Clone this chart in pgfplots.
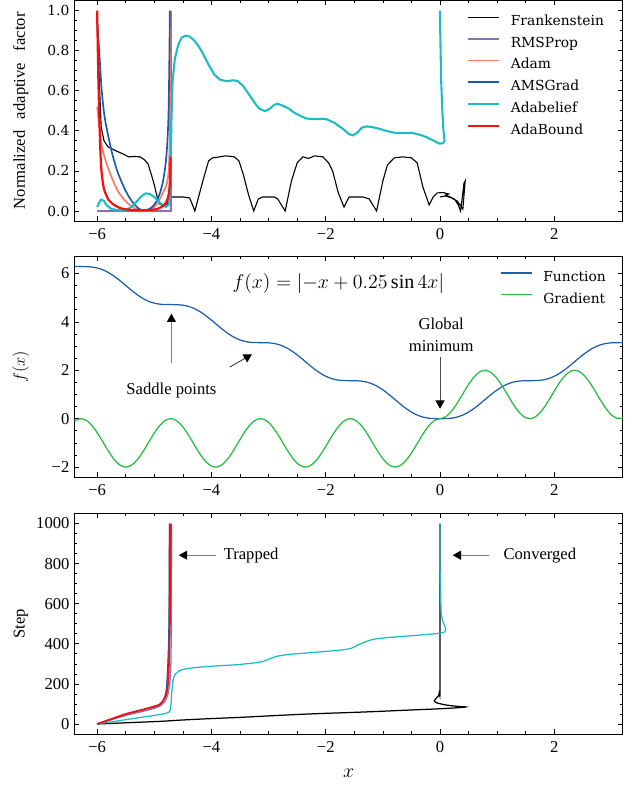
\documentclass[border=0pt]{standalone}
\usepackage{pgfplots}
\pgfplotsset{compat=1.18}
\usepackage{fontspec}
\setmainfont{Liberation Serif}
\newfontfamily\dvs{DejaVu Serif}
\usetikzlibrary{arrows.meta}

\definecolor{cFunc}{RGB}{31,95,170}
\definecolor{cGrad}{RGB}{35,190,60}
\definecolor{cAMS}{RGB}{25,90,170}
\definecolor{cBelief}{RGB}{25,190,195}
\definecolor{cAdam}{RGB}{250,120,100}
\definecolor{cBound}{RGB}{245,15,15}
\definecolor{cRMS}{RGB}{145,110,180}

\pgfplotsset{
  base/.style={
    scale only axis, width=5.486in, height=2.205in, anchor=north west,
    xmin=-6.4, xmax=3.2, xtick={-6,-4,-2,0,2}, xticklabels={−6,−4,−2,0,2},
    minor x tick num=3, minor y tick num=3,
    tick align=inside, major tick length=3.6pt, minor tick length=2pt,
    every tick/.style={black, line width=0.5pt},
    axis line style={line width=0.7pt},
    tick label style={font=\fontsize{12}{14}\selectfont},
    xticklabel style={yshift=-2pt},
    ylabel style={at={(axis description cs:-0.0975,0.5)}, anchor=center, font=\fontsize{12}{14}\selectfont},
    legend cell align=left,
    legend image code/.code={\path (0pt,0pt); \draw[##1] (0pt,3.5pt) -- (22.75pt,3.5pt);},
  },
  lg/.style={legend style={at={(axis description cs:#1,0.952)}, anchor=north west, draw=none, fill=none,
      inner sep=0pt, outer sep=0pt, row sep=0pt, column sep=7.7pt,
      font=\dvs\fontsize{10}{12}\selectfont,
      nodes={inner xsep=0pt, inner ysep=2.85pt, text height=7.5pt, text depth=2.5pt}}},
}

\begin{document}
\begin{tikzpicture}
\useasboundingbox (-0.743in,0.005in) rectangle (5.547in,-7.905in);

% ---------------- top panel ----------------
\begin{axis}[base, lg=0.715, at={(0,0)},
  ymin=-0.05, ymax=1.05, ytick={0,0.2,0.4,0.6,0.8,1.0},
  yticklabels={0.0,0.2,0.4,0.6,0.8,1.0},
  yticklabel style={font=\dvs\fontsize{10}{12}\selectfont},
  ylabel={Normalized\hspace{0.7em}adaptive\hspace{0.7em}factor}]
\addplot[black, line width=0.8pt] coordinates {
(-6.0,0.95) (-5.97,0.70) (-5.93,0.42) (-5.88,0.35) (-5.81,0.32) (-5.67,0.30) (-5.55,0.285) (-5.45,0.27) (-5.35,0.272) (-5.25,0.27) (-5.17,0.255) (-5.11,0.235) (-5.05,0.18) (-5.0,0.13) (-4.95,0.07) (-4.91,0.035) (-4.85,0.028) (-4.78,0.03) (-4.74,0.065) (-4.68,0.07) (-4.5,0.07) (-4.38,0.065) (-4.29,0.0) (-4.15,0.15) (-4.05,0.25) (-3.98,0.265) (-3.9,0.268) (-3.75,0.275) (-3.6,0.27) (-3.52,0.25) (-3.45,0.19) (-3.35,0.08) (-3.26,0.0) (-3.18,0.06) (-3.1,0.07) (-2.9,0.07) (-2.84,0.06) (-2.71,0.0) (-2.6,0.15) (-2.5,0.24) (-2.4,0.27) (-2.3,0.262) (-2.2,0.275) (-2.05,0.27) (-1.95,0.24) (-1.88,0.2) (-1.78,0.09) (-1.68,0.02) (-1.59,0.07) (-1.35,0.07) (-1.24,0.06) (-1.11,0.0) (-1.0,0.15) (-0.92,0.23) (-0.8,0.265) (-0.65,0.27) (-0.5,0.265) (-0.4,0.24) (-0.3,0.12) (-0.19,0.03) (-0.12,0.07) (-0.05,0.09) (0.05,0.092) (0.15,0.085) (0.1,0.08) (0.25,0.06) (0.32,0.03) (0.36,0.0) (0.42,0.14) (0.44,0.15) (0.40,0.01) (0.3,0.05) (0.2,0.065) (0.1,0.075) (0.0,0.07)};
\addlegendentry{Frankenstein}
\addplot[cRMS, line width=1.5pt] coordinates {(-6.0,0.0) (-4.705,0.0) (-4.705,1.0)};
\addlegendentry{RMSProp}
\addplot[cAdam, line width=1.2pt, smooth] coordinates {
(-6.0,0.52) (-5.97,0.44) (-5.93,0.34) (-5.90,0.30) (-5.85,0.25) (-5.79,0.20) (-5.72,0.15) (-5.64,0.10) (-5.55,0.065) (-5.46,0.037) (-5.35,0.015) (-5.23,0.005) (-5.1,0.006) (-5.0,0.02) (-4.93,0.045) (-4.86,0.085) (-4.80,0.12) (-4.77,0.15) (-4.75,0.2) (-4.735,0.3) (-4.725,0.5) (-4.72,1.0)};
\addlegendentry{Adam}
\addplot[cAMS, line width=1.2pt, smooth] coordinates {
(-6.0,0.95) (-5.96,0.78) (-5.92,0.60) (-5.87,0.47) (-5.81,0.38) (-5.74,0.29) (-5.66,0.21) (-5.58,0.15) (-5.5,0.10) (-5.42,0.06) (-5.34,0.03) (-5.26,0.01) (-5.18,0.003) (-5.1,0.008) (-5.02,0.025) (-4.95,0.055) (-4.89,0.10) (-4.84,0.16) (-4.8,0.24) (-4.77,0.35) (-4.75,0.5) (-4.737,0.75) (-4.728,1.0)};
\addlegendentry{AMSGrad}
\addplot[cBelief, line width=1.5pt] coordinates {
(-6.0,0.02) (-5.97,0.04) (-5.93,0.057) (-5.88,0.05) (-5.84,0.03) (-5.75,0.01) (-5.6,0.003) (-5.49,0.005) (-5.4,0.02) (-5.3,0.05) (-5.22,0.075) (-5.15,0.088) (-5.08,0.085) (-5.0,0.07) (-4.9,0.04) (-4.8,0.02) (-4.75,0.03) (-4.72,0.15) (-4.70,0.45) (-4.68,0.65) (-4.64,0.76) (-4.58,0.83) (-4.52,0.865) (-4.45,0.875) (-4.38,0.87) (-4.3,0.85) (-4.22,0.82) (-4.15,0.785) (-4.05,0.73) (-3.95,0.68) (-3.85,0.655) (-3.74,0.648) (-3.62,0.652) (-3.54,0.648) (-3.45,0.625) (-3.33,0.576) (-3.22,0.53) (-3.16,0.51) (-3.06,0.498) (-2.98,0.51) (-2.9,0.53) (-2.84,0.535) (-2.75,0.525) (-2.64,0.51) (-2.55,0.49) (-2.46,0.477) (-2.35,0.462) (-2.23,0.458) (-2.1,0.46) (-1.99,0.458) (-1.85,0.44) (-1.70,0.41) (-1.6,0.385) (-1.53,0.377) (-1.45,0.39) (-1.37,0.415) (-1.29,0.422) (-1.18,0.418) (-1.06,0.41) (-0.92,0.398) (-0.77,0.389) (-0.6,0.39) (-0.48,0.389) (-0.35,0.38) (-0.24,0.369) (-0.12,0.352) (-0.01,0.336) (0.05,0.338) (0.08,0.35) (0.06,0.40) (0.04,0.5) (0.02,0.65) (0.01,0.8) (0.0,0.95) (0.0,1.0)};
\addlegendentry{Adabelief}
\addplot[cBound, line width=1.6pt, smooth] coordinates {
(-6.0,1.0) (-5.985,0.75) (-5.97,0.55) (-5.95,0.35) (-5.93,0.22) (-5.9,0.14) (-5.87,0.10) (-5.8,0.055) (-5.73,0.035) (-5.6,0.015) (-5.49,0.008) (-5.3,0.004) (-5.1,0.005) (-4.95,0.01) (-4.85,0.025) (-4.79,0.045) (-4.75,0.08) (-4.73,0.13) (-4.72,0.2) (-4.715,0.27)};
\addlegendentry{AdaBound}
\end{axis}

% ---------------- middle panel ----------------
\begin{axis}[base, lg=0.776, at={(0,-2.56in)},
  ymin=-2.41, ymax=6.7, ytick={-2,0,2,4,6}, yticklabels={−2,0,2,4,6},
  ylabel={$f(x)$}, ylabel style={font=\fontsize{13}{15}\selectfont}]
\addplot[cFunc, line width=0.9pt, smooth] coordinates {
(-6.4,6.2874) (-6.3,6.2832) (-6.2,6.2817) (-6.1,6.2672) (-6.0,6.2264) (-5.9,6.1498) (-5.8,6.0338) (-5.7,5.8809) (-5.6,5.6994) (-5.5,5.5022) (-5.4,5.3047) (-5.3,5.1222) (-5.2,4.9678) (-5.1,4.85) (-5.0,4.7718) (-4.9,4.7295) (-4.8,4.7142) (-4.7,4.7124) (-4.6,4.7087) (-4.5,4.6878) (-4.4,4.6372) (-4.3,4.5492) (-4.2,4.4219) (-4.1,4.2595) (-4.0,4.072) (-3.9,3.873) (-3.8,3.6784) (-3.7,3.5029) (-3.6,3.3586) (-3.5,3.2523) (-3.4,3.1852) (-3.3,3.152) (-3.2,3.1421) (-3.1,3.1414) (-3.0,3.1342) (-2.9,3.1057) (-2.8,3.0448) (-2.7,2.9452) (-2.6,2.807) (-2.5,2.636) (-2.4,2.4436) (-2.3,2.2443) (-2.2,2.0538) (-2.1,1.8863) (-2.0,1.7526) (-1.9,1.658) (-1.8,1.6016) (-1.7,1.5765) (-1.6,1.5709) (-1.5,1.5699) (-1.4,1.5578) (-1.3,1.5209) (-1.2,1.4491) (-1.1,1.3379) (-1.0,1.1892) (-0.9,1.0106) (-0.8,0.8146) (-0.7,0.6162) (-0.6,0.4311) (-0.5,0.2727) (-0.4,0.1501) (-0.3,0.0670) (-0.2,0.0206) (-0.1,0.0026) (0.0,0.0) (0.1,0.0026) (0.2,0.0206) (0.3,0.0670) (0.4,0.1501) (0.5,0.2727) (0.6,0.4311) (0.7,0.6162) (0.8,0.8146) (0.9,1.0106) (1.0,1.1892) (1.1,1.3379) (1.2,1.4491) (1.3,1.5209) (1.4,1.5578) (1.5,1.5699) (1.6,1.5709) (1.7,1.5765) (1.8,1.6016) (1.9,1.658) (2.0,1.7526) (2.1,1.8863) (2.2,2.0538) (2.3,2.2443) (2.4,2.4436) (2.5,2.636) (2.6,2.807) (2.7,2.9452) (2.8,3.0448) (2.9,3.1057) (3.0,3.1342) (3.1,3.1414) (3.2,3.1421)};
\addlegendentry{Function}
\addplot[cGrad, line width=0.9pt, smooth] coordinates {
(-6.4,-0.1072) (-6.3,-0.0023) (-6.2,-0.0548) (-6.1,-0.2566) (-6.0,-0.5758) (-5.9,-0.962) (-5.8,-1.3541) (-5.7,-1.6902) (-5.6,-1.9176) (-5.5,-2.0) (-5.4,-1.9245) (-5.3,-1.703) (-5.2,-1.3705) (-5.1,-0.9796) (-5.0,-0.5919) (-4.9,-0.2686) (-4.8,-0.0608) (-4.7,-0.0012) (-4.6,-0.0994) (-4.5,-0.3398) (-4.4,-0.6843) (-4.3,-1.0787) (-4.2,-1.461) (-4.1,-1.7699) (-4.0,-1.9577) (-3.9,-1.9942) (-3.8,-1.8737) (-3.7,-1.6154) (-3.6,-1.2598) (-3.5,-0.8633) (-3.4,-0.4882) (-3.3,-0.1941) (-3.2,-0.0272) (-3.1,-0.0138) (-3.0,-0.1562) (-2.9,-0.4303) (-2.8,-0.797) (-2.7,-1.1944) (-2.6,-1.5611) (-2.5,-1.8391) (-2.4,-1.9847) (-2.3,-1.9748) (-2.2,-1.8111) (-2.1,-1.5193) (-2.0,-1.1455) (-1.9,-0.7487) (-1.8,-0.3916) (-1.7,-0.1306) (-1.6,-0.0068) (-1.5,-0.0398) (-1.4,-0.2244) (-1.3,-0.5315) (-1.2,-0.9125) (-1.1,-1.3073) (-1.0,-1.6536) (-0.9,-1.8968) (-0.8,-1.9983) (-0.7,-1.9422) (-0.6,-1.7374) (-0.5,-1.4161) (-0.4,-1.0292) (-0.3,-0.6376) (-0.2,-0.3033) (-0.1,-0.0789) (0.0,0.0) (0.1,0.0789) (0.2,0.3033) (0.3,0.6376) (0.4,1.0292) (0.5,1.4161) (0.6,1.7374) (0.7,1.9422) (0.8,1.9983) (0.9,1.8968) (1.0,1.6536) (1.1,1.3073) (1.2,0.9125) (1.3,0.5315) (1.4,0.2244) (1.5,0.0398) (1.6,0.0068) (1.7,0.1306) (1.8,0.3916) (1.9,0.7487) (2.0,1.1455) (2.1,1.5193) (2.2,1.8111) (2.3,1.9748) (2.4,1.9847) (2.5,1.8391) (2.6,1.5611) (2.7,1.1944) (2.8,0.797) (2.9,0.4303) (3.0,0.1562) (3.1,0.0138) (3.2,0.0272)};
\addlegendentry{Gradient}
\node[font=\fontsize{14.5}{17}\selectfont] at (axis cs:-1.78,5.58) {$f(x)=\mathopen{|}-x+0.25\sin 4x\mathclose{|}$};
\node[font=\fontsize{12}{14}\selectfont] at (axis cs:-4.70,1.17) {Saddle points};
\node[font=\fontsize{12}{16}\selectfont, align=center] at (axis cs:0.02,3.48) {Global\\minimum};
\draw[gray, line width=0.7pt, -{Triangle[length=6pt,width=6.5pt,color=black]}] (axis cs:-4.70,2.28) -- (axis cs:-4.70,4.34);
\draw[black!80, line width=0.6pt, -{Triangle[length=6pt,width=6.5pt,color=black]}] (axis cs:-3.68,2.13) -- (axis cs:-3.29,2.66);
\draw[black!70, line width=0.6pt, -{Triangle[length=6pt,width=6.5pt,color=black]}] (axis cs:0,2.55) -- (axis cs:0,0.41);
\end{axis}

% ---------------- bottom panel ----------------
\begin{axis}[base, at={(0,-5.13in)},
  ymin=-50, ymax=1050, ytick={0,200,400,600,800,1000}, yticklabels={0,200,400,600,800,1000},
  ylabel={Step}, xlabel={$x$},
  xlabel style={at={(axis description cs:0.5,-0.179)}, anchor=center, font=\fontsize{14}{16}\selectfont}]
\addplot[black, line width=0.9pt, smooth] coordinates {
(-6,0) (-5.5,6) (-4.91,13) (-4.5,20) (-4,27) (-3.5,33) (-3.16,38) (-2.6,46) (-2.11,52) (-1.5,58) (-1.06,63) (-0.5,70) (0,76) (0.3,81) (0.45,85) (0.3,88) (0.1,95) (-0.05,105) (-0.1,115) (-0.08,125) (-0.03,140) (-0.01,160) (0,200) (0,1000)};
\addplot[cRMS, line width=0.9pt, smooth] coordinates {
(-6,0) (-5.5,42) (-5.2,63) (-5.0,78) (-4.9,90) (-4.82,110) (-4.76,150) (-4.72,230) (-4.705,400) (-4.70,1000)};
\addplot[cAdam, line width=0.9pt, smooth] coordinates {
(-6,0) (-5.5,49) (-5.2,71) (-5.0,87) (-4.9,97) (-4.84,120) (-4.79,160) (-4.765,250) (-4.745,450) (-4.735,1000)};
\addplot[cAMS, line width=0.9pt, smooth] coordinates {
(-6,0) (-5.5,48) (-5.2,70) (-5.0,85) (-4.9,98) (-4.83,125) (-4.79,170) (-4.77,250) (-4.75,400) (-4.74,600) (-4.735,1000)};
\addplot[cBelief, line width=0.9pt, smooth] coordinates {
(-6,0) (-5.49,22) (-4.91,47) (-4.75,57) (-4.72,70) (-4.705,110) (-4.69,170) (-4.67,220) (-4.64,245) (-4.58,262) (-4.5,272) (-4.3,281) (-4.0,288) (-3.6,295) (-3.3,303) (-3.1,312) (-2.98,325) (-2.85,338) (-2.64,347) (-2.3,355) (-2.0,362) (-1.7,370) (-1.55,378) (-1.45,392) (-1.35,405) (-1.2,420) (-1.06,427) (-0.7,436) (-0.3,445) (0.0,453) (0.08,460) (0.1,470) (0.08,490) (0.04,520) (0.02,563) (0.01,650) (0.0,800) (0.0,1000)};
\addplot[cBound, line width=1.2pt, smooth] coordinates {
(-6,0) (-5.78,22) (-5.5,50) (-5.2,72) (-5.0,88) (-4.91,97) (-4.85,115) (-4.79,147) (-4.76,200) (-4.745,280) (-4.73,450) (-4.72,613) (-4.715,800) (-4.712,1000)};
\draw[gray, line width=0.7pt, -{Triangle[length=6pt,width=6.5pt,color=black]}] (axis cs:-3.92,842) -- (axis cs:-4.57,842);
\node[font=\fontsize{12}{14}\selectfont, anchor=west] at (axis cs:-3.87,842) {Trapped};
\draw[gray, line width=0.7pt, -{Triangle[length=6pt,width=6.5pt,color=black]}] (axis cs:0.864,842) -- (axis cs:0.222,842);
\node[font=\fontsize{12}{14}\selectfont, anchor=west] at (axis cs:1.027,842) {Converged};
\end{axis}
\end{tikzpicture}
\end{document}
